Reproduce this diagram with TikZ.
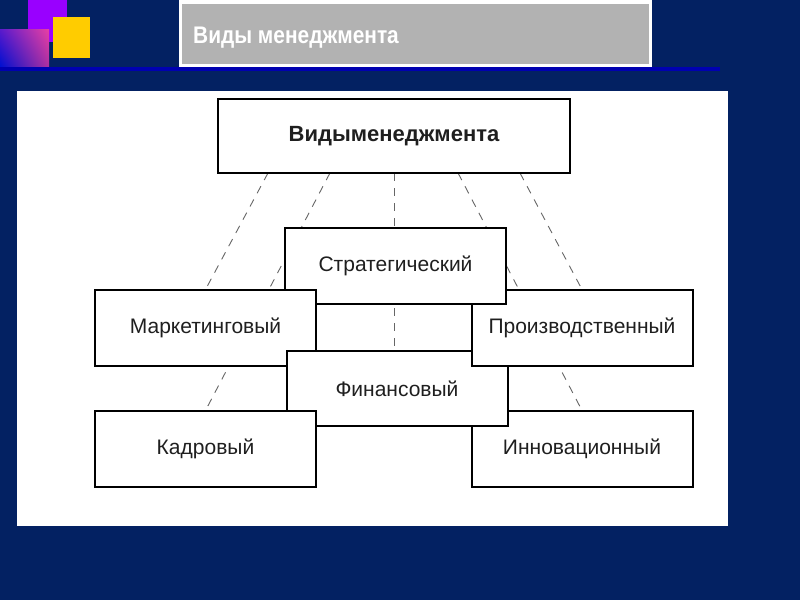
\documentclass[tikz,border=0pt]{standalone}
\usepackage{fontspec}
\setmainfont{Liberation Sans}
\newfontfamily\titlefont{Liberation Sans}[FakeStretch=0.87]
\usetikzlibrary{calc,shadings}
\definecolor{navy}{HTML}{032162}
\definecolor{decopurple}{HTML}{9900FF}
\definecolor{decoyellow}{HTML}{FFCC00}
\definecolor{rulerblue}{HTML}{0000B0}
\definecolor{titlegray}{HTML}{B2B2B2}
\definecolor{gul}{RGB}{90,26,204}
\definecolor{gur}{RGB}{232,64,164}
\definecolor{gll}{RGB}{0,16,208}
\definecolor{glr}{RGB}{176,48,160}
\pgfdeclarelayer{bg}
\pgfdeclarelayer{lines}
\pgfsetlayers{bg,lines,main}
\begin{document}
\begin{tikzpicture}[x=1pt,y=-1pt,
  box/.style={draw=black, line width=2pt, fill=white, minimum width=221pt,
    minimum height=76pt, inner sep=0pt, outer sep=0pt,
    font=\fontsize{21}{21}\selectfont, text=black!88},
  dashline/.style={draw=black!60, line width=0.9pt, dash pattern=on 8pt off 7pt}]
\useasboundingbox (0,0) rectangle (800,600);
\begin{pgfonlayer}{bg}
\fill[navy] (0,0) rectangle (800,600);
\fill[decopurple] (28,0) rectangle (67,42);
\shade[upper left=gul, upper right=gur, lower left=gll, lower right=glr] (0,29) rectangle (49,66);
\fill[decoyellow] (53,17) rectangle (90,58);
\fill[rulerblue] (0,67) rectangle (720,70.5);
\fill[white] (179,-2) rectangle (652,67);
\fill[titlegray] (182,4) rectangle (649,64);
\fill[white] (17,91) rectangle (728,526);
\end{pgfonlayer}
\node[anchor=base west, text=white, inner sep=0pt,
  font=\titlefont\bfseries\fontsize{24}{24}\selectfont] (title) at (193,43) {Виды менеджмента};
% boxes, in stacking order
\node[box, minimum width=352pt, minimum height=74pt,
  font=\bfseries\fontsize{22}{22}\selectfont] (top) at (394,136) {Видыменеджмента};
\node[box] (innov) at (582,448.5) {Инновационный};
\node[box] (prod) at (582,327.5) {Производственный};
\node[box] (strat) at (395.5,266) {Стратегический};
\node[box] (mark) at (205.5,327.5) {Маркетинговый};
\node[box, minimum height=75pt] (fin) at (397,388.5) {Финансовый};
\node[box] (kadr) at (205.5,448.5) {Кадровый};
\begin{scope}
\clip ($(prod.south west)+(-4,4)$) rectangle ($(prod.south east)+(4,-20)$);
\draw[line width=2pt, fill=white] (prod.south west) rectangle (prod.north east);
\end{scope}
% dashed connectors
\begin{pgfonlayer}{lines}
\draw[dashline] ($(top.south west)!0.142!(top.south east)$) -- (mark.north);
\draw[dashline] ($(top.south west)!0.318!(top.south east)$) -- (kadr.north);
\draw[dashline] (top.south) -- (top.south |- fin.north);
\draw[dashline] ($(top.south west)!0.682!(top.south east)$) -- (innov.north);
\draw[dashline] ($(top.south west)!0.858!(top.south east)$) -- (prod.north);
\end{pgfonlayer}
\end{tikzpicture}
\end{document}
